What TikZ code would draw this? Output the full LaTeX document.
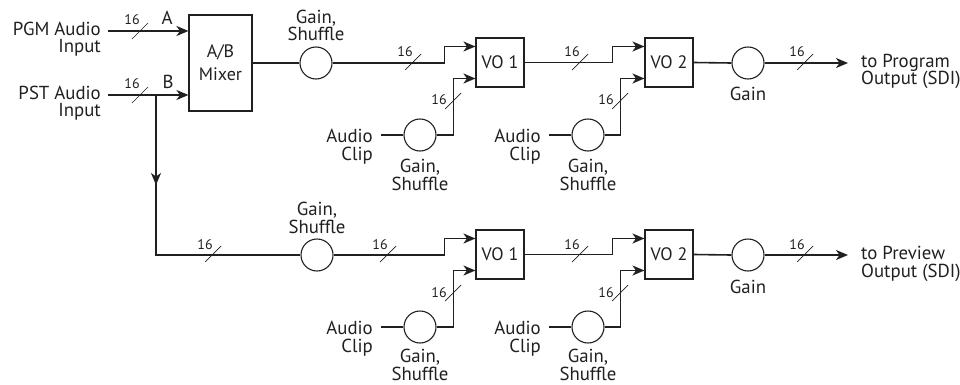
\documentclass[tikz,border=0pt]{standalone}
\usepackage{fontspec}
\setmainfont{PT Sans}
\usetikzlibrary{arrows.meta}
\definecolor{ink}{HTML}{231F20}
\begin{document}
\begin{tikzpicture}[x=1pt,y=-1pt,
  lbl/.style={font=\fontsize{18.8}{17.5}\selectfont, align=center, inner sep=0pt, text=ink},
  num/.style={font=\fontsize{14}{14}\selectfont, inner sep=0pt, text=ink, anchor=base},
  box/.style={draw=ink, line width=1.1pt, minimum width=48pt, minimum height=49pt, inner sep=0pt, font=\fontsize{18}{23}\selectfont, align=center, text=ink},
  circ/.style={draw=ink, line width=1.1pt, circle, minimum size=32pt, inner sep=0pt},
  sig/.style={draw=ink, line width=1.6pt},
  arr/.style={-{Stealth[length=12pt,width=10pt,inset=3.5pt]}},
  bus/.pic={\draw[ink, line width=0.7pt] (-8,8) -- (8,-8);}
]
\useasboundingbox (0,0) rectangle (960,385);

% ---------- inputs and mixer ----------
\node[lbl,align=right,anchor=base east] (pgm) at (101,53) {PGM Audio\\Input};
\node[lbl,align=right,anchor=base east] (pst) at (101,117) {PST Audio\\Input};
\node[box,minimum width=63pt,minimum height=96pt] (mix) at (220.5,63) {A/B\\Mixer};
\coordinate (pgmin) at (108,31);
\coordinate (pstin) at (108,95);
\coordinate (br) at (156,95);
\coordinate (mid) at (156,185);
\draw[sig,arr] (pgmin) -- (pgmin -| mix.west);
\draw[sig,arr] (pstin) -- (pstin -| mix.west);
\pic at (140,31) {bus};
\pic at (140,95) {bus};
\node[num] (n1) at (132,25) {16};
\node[num] (n2) at (132,89) {16};
\node[lbl,anchor=base] (la) at (167,25) {A};
\node[lbl,anchor=base] (lb) at (168,88.5) {B};

% ---------- top row ----------
\node[circ] (g1) at (316,63) {};
\node[lbl,anchor=base] (g1l) at (316,41) {Gain,\\Shuffle};
\node[box] (vo1) at (500,62.5) {VO 1};
\node[circ] (ac1) at (420,135) {};
\node[lbl,align=right,anchor=base east] (ac1t) at (373,160) {Audio\\Clip};
\node[lbl,anchor=base] (ac1l) at (420,190) {Gain,\\Shuffle};
\node[box] (vo2) at (669,62.5) {VO 2};
\node[circ] (ac2) at (588,135) {};
\node[lbl,align=right,anchor=base east] (ac2t) at (541,160) {Audio\\Clip};
\node[lbl,anchor=base] (ac2l) at (588,190) {Gain,\\Shuffle};
\node[circ] (g2) at (748,63) {};
\node[lbl,anchor=base] (g2l) at (748,101) {Gain};
\node[lbl,align=left,anchor=base west] (out1) at (861,85) {to Program\\Output (SDI)};

\coordinate (vo1a) at ([yshift=16pt]vo1.west);
\coordinate (vo1b) at ([yshift=-16pt]vo1.west);
\coordinate (vo2a) at ([yshift=16pt]vo2.west);
\coordinate (vo2b) at ([yshift=-16pt]vo2.west);
\coordinate (ac1s) at (381,135);
\coordinate (ac2s) at (549,135);
\coordinate (o1) at (848,63);

\draw[sig] (mix.east) -- (g1.west);
\draw[sig,arr] (g1.east) -- ++(112,0) |- (vo1a);
\draw[sig] (ac1s) -- (ac1.west);
\draw[sig,arr] (ac1.east) -- ++(17,0) |- (vo1b);
\draw[sig,arr] (vo1.east) -- ++(88,0) |- (vo2a);
\draw[sig] (ac2s) -- (ac2.west);
\draw[sig,arr] (ac2.east) -- ++(16,0) |- (vo2b);
\draw[sig] (vo2.east) -- (g2.west);
\draw[sig,arr] (g2.east) -- (o1);

\pic at (413,62) {bus};   \node[num] (n3) at (405,57) {16};
\pic at (453,101) {bus};  \node[num] (n4) at (439,105) {16};
\pic at (580,62) {bus};   \node[num] (n5) at (572,57) {16};
\pic at (620,101) {bus};  \node[num] (n6) at (606,105) {16};
\pic at (805,62) {bus};   \node[num] (n7) at (797,57) {16};

% ---------- bottom row ----------
\node[circ] (g3) at (317,255) {};
\node[lbl,anchor=base] (g3l) at (317,233) {Gain,\\Shuffle};
\node[box] (vo3) at (500,254.5) {VO 1};
\node[circ] (ac3) at (420,327) {};
\node[lbl,align=right,anchor=base east] (ac3t) at (373,352) {Audio\\Clip};
\node[lbl,anchor=base] (ac3l) at (420,380) {Gain,\\Shuffle};
\node[box] (vo4) at (669,254.5) {VO 2};
\node[circ] (ac4) at (588,327) {};
\node[lbl,align=right,anchor=base east] (ac4t) at (541,352) {Audio\\Clip};
\node[lbl,anchor=base] (ac4l) at (588,380) {Gain,\\Shuffle};
\node[circ] (g4) at (748,255) {};
\node[lbl,anchor=base] (g4l) at (748,293) {Gain};
\node[lbl,align=left,anchor=base west] (out2) at (861,277) {to Preview\\Output (SDI)};

\coordinate (vo3a) at ([yshift=16pt]vo3.west);
\coordinate (vo3b) at ([yshift=-16pt]vo3.west);
\coordinate (vo4a) at ([yshift=16pt]vo4.west);
\coordinate (vo4b) at ([yshift=-16pt]vo4.west);
\coordinate (ac3s) at (381,327);
\coordinate (ac4s) at (549,327);
\coordinate (o2) at (848,255);

\draw[sig] (br) |- (g3.west);
\draw[sig,arr] (br) -- (mid);
\draw[sig,arr] (g3.east) -- ++(111,0) |- (vo3a);
\draw[sig] (ac3s) -- (ac3.west);
\draw[sig,arr] (ac3.east) -- ++(17,0) |- (vo3b);
\draw[sig,arr] (vo3.east) -- ++(88,0) |- (vo4a);
\draw[sig] (ac4s) -- (ac4.west);
\draw[sig,arr] (ac4.east) -- ++(16,0) |- (vo4b);
\draw[sig] (vo4.east) -- (g4.west);
\draw[sig,arr] (g4.east) -- (o2);

\pic at (213,254) {bus};  \node[num] (n8) at (205,249) {16};
\pic at (388,254) {bus};  \node[num] (n9) at (380,249) {16};
\pic at (453,293) {bus};  \node[num] (n10) at (439,297) {16};
\pic at (580,254) {bus};  \node[num] (n11) at (572,249) {16};
\pic at (620,293) {bus};  \node[num] (n12) at (606,297) {16};
\pic at (805,254) {bus};  \node[num] (n13) at (797,249) {16};
\end{tikzpicture}
\end{document}
